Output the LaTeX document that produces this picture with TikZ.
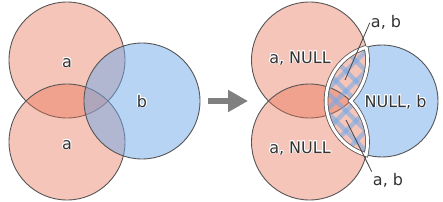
\documentclass[tikz,border=0pt]{standalone}
\usepackage{fontspec}
\setmainfont{DejaVu Sans}
\usepackage{contour}
\contourlength{0.8pt}
\contournumber{16}
\usetikzlibrary{arrows.meta}

\definecolor{setred}{RGB}{232,110,80}
\definecolor{setblue}{RGB}{113,169,233}
\definecolor{edge}{RGB}{85,85,85}
\definecolor{ink}{RGB}{51,51,51}

% boundary of the lens  b' cap (a1 cup a2)
\newcommand\lensrim{(366.1,153.7) arc[start angle=106.5,end angle=253.5,radius=56]
  arc[start angle=-12.65,end angle=45,radius=58]
  arc[start angle=-45,end angle=12.65,radius=58] -- cycle}

\begin{document}
\begin{tikzpicture}[x=1pt,y=1pt,
  seta/.style={fill=setred,fill opacity=0.4},
  setb/.style={fill=setblue,fill opacity=0.5},
  rim/.style={draw=edge,line width=0.9pt},
  lbl/.style={text=ink,font=\fontsize{16}{19}\selectfont,inner sep=1pt,anchor=base},
  cut/.style={draw=edge,line width=0.8pt,double=white,double distance=3pt},
  stripe/.style={setblue,opacity=0.55,line width=4.5pt},
  leader/.style={draw=edge!80!black,line width=0.8pt}]
  \useasboundingbox (0,0) rectangle (443,201);

  % before
  \filldraw[seta,rim] (67,141) circle (58);
  \filldraw[seta,rim] (67,59) circle (58);
  \filldraw[setb,rim] (142,100) circle (58);
  \node[lbl] (atop) at (67,134) {\contour{white}{a}};
  \node[lbl] (abot) at (67,52) {\contour{white}{a}};
  \node[lbl] (bmid) at (142,94) {\contour{white}{b}};

  % arrow
  \coordinate (gofrom) at (208,100);
  \coordinate (goto) at (248,100);
  \draw[gray,line width=6pt,-{Triangle[length=20pt,width=21pt]}] (gofrom) -- (goto);

  % after
  \filldraw[seta,rim] (309.5,141) circle (58);
  \filldraw[seta,rim] (309.5,59) circle (58);
  \filldraw[setb,rim] (366.1,153.7) arc[start angle=106.5,end angle=-106.5,radius=56]
    arc[start angle=-12.65,end angle=45,radius=58]
    arc[start angle=-45,end angle=12.65,radius=58] -- cycle;
  \begin{scope}
    \clip \lensrim;
    \foreach \c in {196,216,...,336}
      \draw[stripe] (\c+40,40) -- (\c+160,160);
    \foreach \c in {396,416,...,536}
      \draw[stripe] (\c-160,160) -- (\c-40,40);
  \end{scope}
  \draw[cut] \lensrim;

  \node[lbl] (anull1) at (300,138) {\contour{white}{a, NULL}};
  \node[lbl] (anull2) at (300,48) {\contour{white}{a, NULL}};
  \node[lbl] (nullb) at (395.5,94) {\contour{white}{NULL, b}};
  \node[lbl] (abup) at (386,173) {a, b};
  \node[lbl] (abdown) at (388,16) {a, b};
  \coordinate (uptip) at (345,121);
  \coordinate (downtip) at (346,81);
  \draw[leader] (abup.west) -- (uptip);
  \draw[leader] (abdown.north west) -- (downtip);
\end{tikzpicture}
\end{document}
